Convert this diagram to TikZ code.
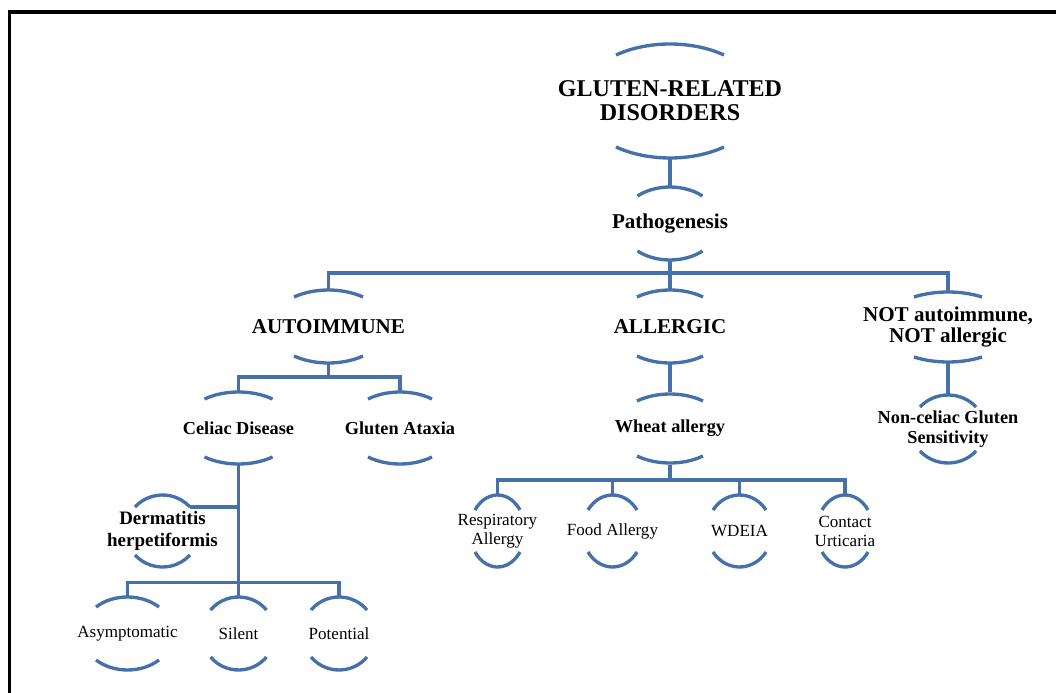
\documentclass[tikz,border=0pt]{standalone}
\usepackage{fontspec}
\setmainfont{Liberation Serif}
\usetikzlibrary{calc, positioning}

\definecolor{treeblue}{RGB}{70,112,170}

\tikzset{
  link/.style={draw=treeblue, line width=1.9pt},
  cat/.style={inner sep=0pt, minimum height=1.44cm, align=center},
  titletext/.style={cat, minimum height=2.28cm, font=\fontsize{13.7}{13.6}\selectfont\bfseries},
  headtext/.style={cat, font=\fontsize{12}{12.4}\selectfont\bfseries},
  subtext/.style={cat, font=\fontsize{10.4}{11.3}\selectfont\bfseries},
  leaftext/.style={cat, font=\fontsize{9.7}{10.8}\selectfont}
}

% top and bottom bracket arcs of a node: name, half width, end offset, peak offset
\newcommand{\bracketpair}[4]{%
  \pgfmathsetmacro{\arcang}{asin(#3/#4)}
  \pgfmathsetmacro{\arcxr}{#2/cos(\arcang)}
  \draw[link] ($(#1.center)+(-#2,#3)$) arc[start angle=180-\arcang, end angle=\arcang, x radius=\arcxr, y radius=#4];
  \draw[link] ($(#1.center)+(-#2,-#3)$) arc[start angle=180+\arcang, end angle=360-\arcang, x radius=\arcxr, y radius=#4];
}

\begin{document}
\begin{tikzpicture}[x=0.02cm, y=0.02cm]
    \useasboundingbox (0,0) rectangle (1056,-693);

    % Frame
    \draw[line width=2pt] (9.5,-693) -- (9.5,-12) -- (1056,-12);

    % Top
    \node[titletext] (grd) at (670,-101) {GLUTEN-RELATED\\DISORDERS};
    \node[headtext] (patho) at (670,-223.5) {Pathogenesis};

    % First level
    \node[headtext] (auto) at (328.5,-326.5) {AUTOIMMUNE};
    \node[headtext] (allergic) at (670,-326.5) {ALLERGIC};
    \node[headtext] (notai) at (948,-327) {NOT autoimmune,\\NOT allergic};

    % Second level
    \node[subtext] (celiac) at (238.5,-428) {Celiac Disease};
    \node[subtext] (ataxia) at (400,-428) {Gluten Ataxia};
    \node[subtext] (wheat) at (670,-428.5) {Wheat allergy};
    \node[subtext, minimum height=1.36cm] (ncgs) at (948,-429) {Non-celiac Gluten\\Sensitivity};

    % Allergy kinds
    \node[leaftext] (resp) at (497.5,-531) {Respiratory\\Allergy};
    \node[leaftext] (food) at (612.5,-531) {Food Allergy};
    \node[leaftext] (wdeia) at (739.5,-531) {WDEIA};
    \node[leaftext] (contact) at (845,-531) {Contact\\Urticaria};

    % Celiac forms
    \node[subtext, font=\fontsize{10.8}{12.5}\selectfont\bfseries] (derm) at (162.5,-531) {Dermatitis\\herpetiformis};
    \node[leaftext] (asym) at (127.5,-633.5) {Asymptomatic};
    \node[leaftext] (silent) at (238.5,-633.5) {Silent};
    \node[leaftext] (potential) at (339,-633.5) {Potential};

    % Arcs
    \bracketpair{grd}{54}{46}{57}
    \bracketpair{patho}{32.5}{27.5}{36.5}
    \bracketpair{auto}{34.5}{29.5}{36.5}
    \bracketpair{allergic}{33}{29.5}{36.5}
    \bracketpair{notai}{34}{30}{35}
    \bracketpair{celiac}{34}{29}{36}
    \bracketpair{ataxia}{32}{29}{36}
    \bracketpair{wheat}{33}{27.5}{34.5}
    \bracketpair{ncgs}{28}{22}{34}
    \bracketpair{resp}{22.5}{21}{36}
    \bracketpair{food}{24.5}{21}{36}
    \bracketpair{wdeia}{26.5}{21}{36}
    \bracketpair{contact}{23}{21}{36}
    \bracketpair{derm}{27.5}{24}{36}
    \bracketpair{asym}{31.5}{26.5}{36.5}
    \bracketpair{silent}{28}{23.5}{36.5}
    \bracketpair{potential}{28}{23.5}{36.5}

    % Connectors
    \draw[link] (grd.south) -- (patho.north);
    \draw[link] (patho.south) -- ++(0,-13) coordinate (busone) -| (auto.north);
    \draw[link] (busone) -| (notai.north);
    \draw[link] (busone) -- (allergic.north);
    \draw[link] (auto.south) -- ++(0,-14) coordinate (bustwo) -| (celiac.north);
    \draw[link] (bustwo) -| (ataxia.north);
    \draw[link] (allergic.south) -- (wheat.north);
    \draw[link] (notai.south) -- (ncgs.north);
    \draw[link] (wheat.south) -- ++(0,-15) coordinate (busthree) -| (resp.north);
    \draw[link] (busthree) -| (food.north);
    \draw[link] (busthree) -| (wdeia.north);
    \draw[link] (busthree) -| (contact.north);
    \draw[link] (celiac.south) -- ++(0,-118) coordinate (busfour) -| (asym.north);
    \draw[link] (busfour) -- (silent.north);
    \draw[link] (busfour) -| (potential.north);
    \coordinate (dhtip) at ($(derm.center)+(27.5,24)$);
    \draw[link] (dhtip) -- (dhtip -| celiac.south);

\end{tikzpicture}
\end{document}
